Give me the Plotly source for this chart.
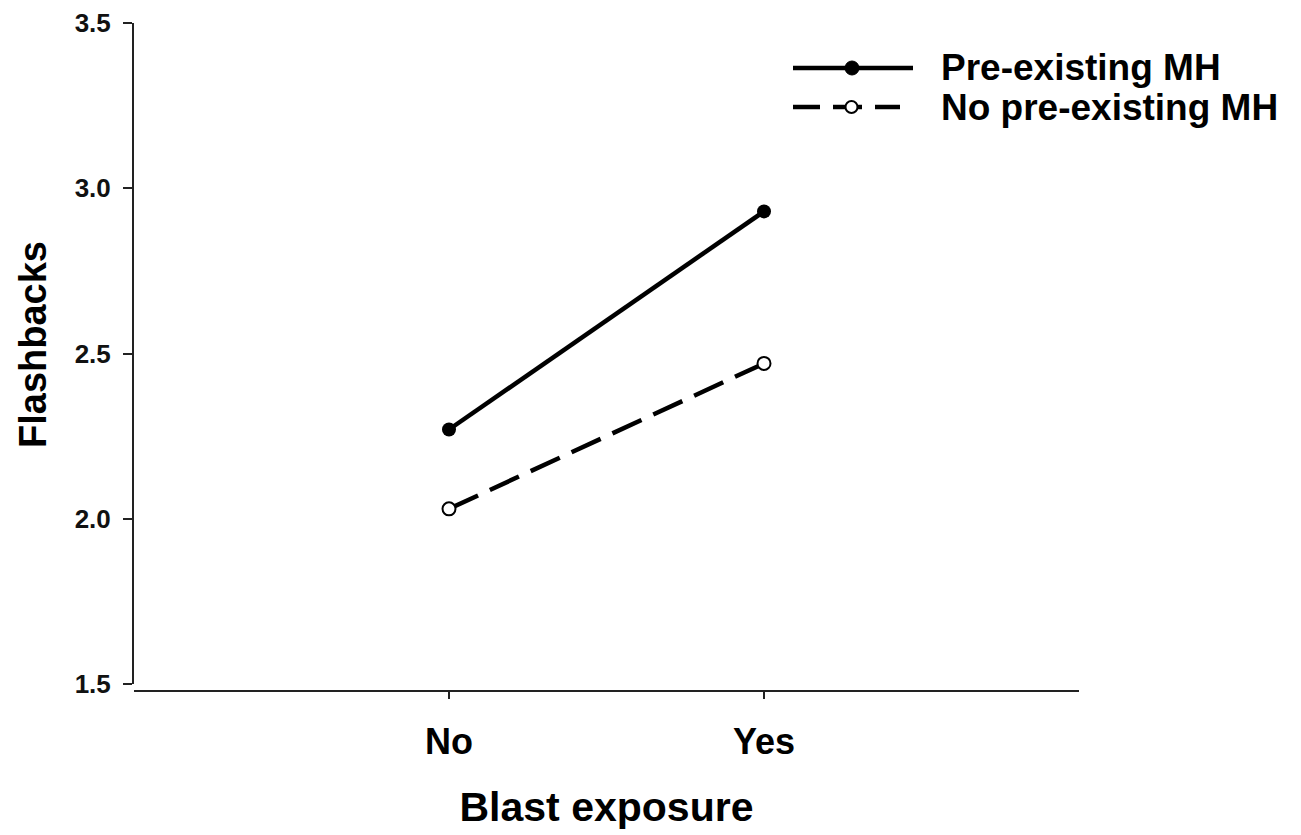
import plotly.graph_objects as go

categories = ["No", "Yes"]
pre_existing = [2.27, 2.93]
no_pre_existing = [2.03, 2.47]
series_names = ["Pre-existing MH", "No pre-existing MH"]
y_ticks = [1.5, 2.0, 2.5, 3.0, 3.5]

FONT = "Arial, Liberation Sans, sans-serif"

fig = go.Figure()
fig.add_trace(go.Scatter(
    x=[0, 1], y=pre_existing, mode="lines+markers", name=series_names[0],
    line=dict(color="black", width=4.5),
    marker=dict(symbol="circle", size=14, color="black"),
    showlegend=False,
))
fig.add_trace(go.Scatter(
    x=[0, 1], y=no_pre_existing, mode="lines+markers", name=series_names[1],
    line=dict(color="black", width=4.5, dash="32px,13px"),
    marker=dict(symbol="circle", size=13, color="white", line=dict(color="black", width=2)),
    showlegend=False,
))

W, H = 1301, 835
L, R, T, B = 134, 1079, 23, 691
pw, ph = R - L, B - T

def px(x):
    return (x - L) / pw

def py(y):
    return (B - y) / ph

# custom legend
shapes = []
annotations = []
leg_rows = [68, 107]
# solid
shapes.append(dict(type="line", xref="paper", yref="paper", x0=px(793), x1=px(913),
                   y0=py(leg_rows[0]), y1=py(leg_rows[0]), line=dict(color="black", width=4.5)))
shapes.append(dict(type="circle", xref="paper", yref="paper", x0=px(845), x1=px(859),
                   y0=py(leg_rows[0] + 7), y1=py(leg_rows[0] - 7), fillcolor="black",
                   line=dict(color="black", width=1)))
# dashed
for a, b in [(793, 820), (833, 846), (857, 862), (875, 900)]:
    shapes.append(dict(type="line", xref="paper", yref="paper", x0=px(a), x1=px(b),
                       y0=py(leg_rows[1]), y1=py(leg_rows[1]), line=dict(color="black", width=4.5)))
shapes.append(dict(type="circle", xref="paper", yref="paper", x0=px(845.5), x1=px(857.5),
                   y0=py(leg_rows[1] + 6), y1=py(leg_rows[1] - 6), fillcolor="white",
                   line=dict(color="black", width=2)))
for name, row in zip(series_names, leg_rows):
    annotations.append(dict(text="<b>%s</b>" % name, xref="paper", yref="paper",
                            x=px(939), y=py(row), xanchor="left", yanchor="middle",
                            showarrow=False, font=dict(family=FONT, size=37, color="black")))
# y-axis title
annotations.append(dict(text="<b>Flashbacks</b>", xref="paper", yref="paper",
                        x=px(33), y=py(345), xanchor="center", yanchor="middle",
                        textangle=-90, showarrow=False,
                        font=dict(family=FONT, size=38, color="black")))

fig.update_layout(
    width=W, height=H,
    margin=dict(l=L, r=W - R, t=T, b=H - B),
    plot_bgcolor="white", paper_bgcolor="white",
    shapes=shapes, annotations=annotations,
    xaxis=dict(
        range=[-1, 2], tickvals=[0, 1], ticktext=["<b>%s</b>" % c for c in categories],
        showline=True, linecolor="#222", linewidth=2, ticks="outside", ticklen=7,
        tickwidth=2, tickcolor="#222", showgrid=False, zeroline=False,
        anchor="free", position=0, ticklabelstandoff=12, automargin=False,
        tickfont=dict(family=FONT, size=36, color="black"),
        title=dict(text="<b>Blast exposure</b>", font=dict(family=FONT, size=41, color="black"),
                   standoff=30),
    ),
    yaxis=dict(
        range=[1.5, 3.5], domain=[7 / ph, 1], tickvals=y_ticks, tickformat=".1f",
        showline=True, linecolor="#222", linewidth=2, ticks="outside", ticklen=9,
        tickwidth=2, tickcolor="#222", showgrid=False, zeroline=False,
        ticklabelstandoff=7, automargin=False,
        tickfont=dict(family=FONT, size=26, color="#111", weight="bold"),
    ),
)

fig.write_html("out.html", config={"displayModeBar": False},
               post_script="document.body.style.margin='0';")
